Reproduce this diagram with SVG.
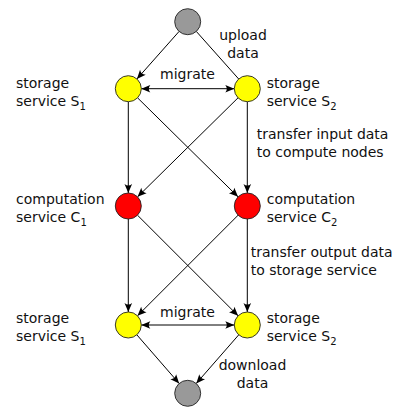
<svg xmlns="http://www.w3.org/2000/svg" width="396" height="407" viewBox="0 0 396 407">
  <style>
    text { font-family: "DejaVu Sans", sans-serif; font-size: 14px; fill: #111; }
    .sub { font-size: 10px; }
    .mid { text-anchor: middle; }
    .node { stroke: #222; stroke-width: 0.9; }
    .gray { fill: #999999; }
    .storage { fill: #ffff00; }
    .compute { fill: #ff0000; }
    #edges line { stroke: #000; stroke-width: 1; fill: none; }
    .arr { marker-end: url(#head); }
    .both { marker-start: url(#head); marker-end: url(#head); }
  </style>
  <defs>
    <marker id="head" markerUnits="userSpaceOnUse" markerWidth="12" markerHeight="10" viewBox="-10 -5 12 10" refX="0" refY="0" orient="auto-start-reverse">
      <path d="M0,0 L-9,-3.8 Q-6,0 -9,3.8 Z" fill="#000"/>
    </marker>
  </defs>

  <!-- connectors -->
  <g id="edges">
    <line x1="179.08" y1="31.43" x2="136.92" y2="78.97" class="arr"/>
    <line x1="196.32" y1="31.43" x2="238.68" y2="78.97"/>
    <line x1="141.3" y1="88.7" x2="234.3" y2="88.7" class="both"/>
    <line x1="128.3" y1="101.7" x2="128.3" y2="193" class="arr"/>
    <line x1="247.3" y1="101.7" x2="247.3" y2="193" class="arr"/>
    <line x1="137.56" y1="97.83" x2="238.04" y2="196.87" class="arr"/>
    <line x1="238.04" y1="97.83" x2="137.56" y2="196.87" class="arr"/>
    <line x1="128.3" y1="219" x2="128.3" y2="312" class="arr"/>
    <line x1="247.3" y1="219" x2="247.3" y2="312" class="arr"/>
    <line x1="137.49" y1="215.19" x2="238.11" y2="315.81" class="arr"/>
    <line x1="238.11" y1="215.19" x2="137.49" y2="315.81" class="arr"/>
    <line x1="141.3" y1="325" x2="234.3" y2="325" class="both"/>
    <line x1="136.83" y1="334.81" x2="179.17" y2="383.49" class="arr"/>
    <line x1="238.77" y1="334.81" x2="196.23" y2="383.49" class="arr"/>
  </g>

  <!-- edge labels -->
  <g id="edge-labels">
    <text x="243" y="40" class="mid">upload</text>
    <text x="243" y="57.5" class="mid">data</text>
    <text x="187.5" y="78.5" class="mid">migrate</text>
    <text x="256.7" y="139.3">transfer input data</text>
    <text x="256.7" y="156.8">to compute nodes</text>
    <text x="250.7" y="257">transfer output data</text>
    <text x="250.7" y="274.5">to storage service</text>
    <text x="187.5" y="317.3" class="mid">migrate</text>
    <text x="252.5" y="370" class="mid">download</text>
    <text x="252.5" y="387.5" class="mid">data</text>
  </g>

  <!-- nodes -->
  <g id="source">
    <circle cx="187.7" cy="21.7" r="13" class="node gray"/>
  </g>
  <g id="storage-s1-top">
    <circle cx="128.3" cy="88.7" r="13" class="node storage"/>
    <text x="16" y="88.3">storage</text>
    <text x="16" y="105.8">service S<tspan class="sub" dy="4">1</tspan></text>
  </g>
  <g id="storage-s2-top">
    <circle cx="247.3" cy="88.7" r="13" class="node storage"/>
    <text x="266.7" y="88.3">storage</text>
    <text x="266.7" y="105.8">service S<tspan class="sub" dy="4">2</tspan></text>
  </g>
  <g id="compute-c1">
    <circle cx="128.3" cy="206" r="13" class="node compute"/>
    <text x="16" y="204">computation</text>
    <text x="16" y="221.5">service C<tspan class="sub" dy="4">1</tspan></text>
  </g>
  <g id="compute-c2">
    <circle cx="247.3" cy="206" r="13" class="node compute"/>
    <text x="266.7" y="204">computation</text>
    <text x="266.7" y="221.5">service C<tspan class="sub" dy="4">2</tspan></text>
  </g>
  <g id="storage-s1-bottom">
    <circle cx="128.3" cy="325" r="13" class="node storage"/>
    <text x="16" y="323.3">storage</text>
    <text x="16" y="340.8">service S<tspan class="sub" dy="4">1</tspan></text>
  </g>
  <g id="storage-s2-bottom">
    <circle cx="247.3" cy="325" r="13" class="node storage"/>
    <text x="266.7" y="323.3">storage</text>
    <text x="266.7" y="340.8">service S<tspan class="sub" dy="4">2</tspan></text>
  </g>
  <g id="sink">
    <circle cx="187.7" cy="393.3" r="13" class="node gray"/>
  </g>
</svg>
